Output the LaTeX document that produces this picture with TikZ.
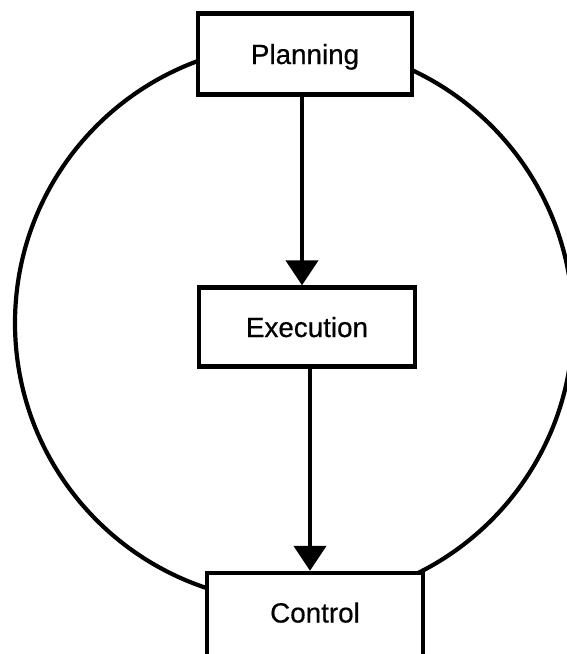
\documentclass[tikz,border=0pt]{standalone}
\usepackage{fontspec}
\setmainfont{Liberation Sans}
\newfontfamily\boxfont[FakeBold=0.5]{Liberation Sans}
\usetikzlibrary{arrows.meta}
\begin{document}
\begin{tikzpicture}[x=1pt,y=-1pt,
  box/.style={draw, line width=4.5pt, fill=white, inner sep=0pt,
    text height=20pt, text depth=0pt,
    font=\boxfont\fontsize{27.8}{30}\selectfont},
  loop/.style={line width=4.2pt},
  arr/.style={line width=4.5pt, -{Triangle[width=32pt,length=25pt]}}]
\useasboundingbox (0,0) rectangle (567,654);
\clip (0,0) rectangle (567,654);
\fill[white] (0,0) rectangle (567,654);
\draw[loop] (294,323) circle[radius=279];
\node[box, minimum width=214pt, minimum height=81pt] (P) at (305,54) {Planning};
\node[box, minimum width=216pt, minimum height=79pt] (E) at (307,327) {Execution};
\node[box, minimum width=216pt, minimum height=86pt, text height=13pt] (C) at (315,616) {Control};
\draw[arr] ([xshift=-3pt]P.south) -- ([xshift=-5pt]E.north);
\draw[arr] ([xshift=3pt]E.south) -- ([xshift=-5pt]C.north);
\end{tikzpicture}
\end{document}
